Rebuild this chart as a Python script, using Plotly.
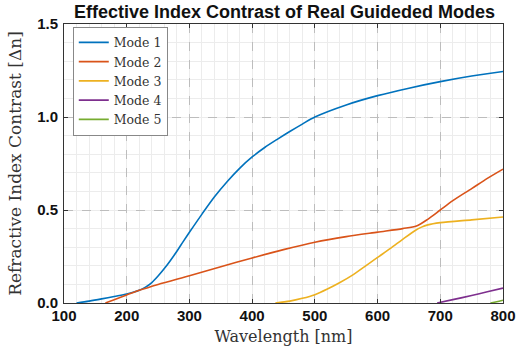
import plotly.graph_objects as go

# ---- data ----
wl_mode1 = [120, 140, 160, 180, 200, 220, 230, 240, 250, 260, 270, 280, 290, 300, 320,
            340, 360, 380, 400, 420, 440, 460, 480, 500, 550, 600, 650, 700, 750, 800]
dn_mode1 = [0.0, 0.01, 0.022, 0.035, 0.048, 0.068, 0.085, 0.11, 0.145, 0.185, 0.23,
            0.278, 0.33, 0.38, 0.478, 0.571, 0.652, 0.724, 0.785, 0.836, 0.88, 0.922,
            0.962, 1.0, 1.065, 1.115, 1.155, 1.19, 1.22, 1.245]

wl_mode2 = [166, 180, 200, 220, 250, 300, 350, 400, 450, 500, 550, 600, 640, 662, 680,
            700, 720, 750, 775, 800]
dn_mode2 = [0.0, 0.018, 0.043, 0.068, 0.1, 0.147, 0.195, 0.242, 0.287, 0.327, 0.357,
            0.381, 0.4, 0.414, 0.45, 0.5, 0.55, 0.615, 0.67, 0.72]

wl_mode3 = [437, 460, 480, 500, 520, 540, 560, 580, 600, 620, 640, 660, 670, 680, 700,
            750, 800]
dn_mode3 = [0.0, 0.01, 0.025, 0.045, 0.075, 0.11, 0.15, 0.197, 0.245, 0.292, 0.342,
            0.39, 0.408, 0.42, 0.432, 0.447, 0.462]

wl_mode4 = [695, 720, 750, 775, 800]
dn_mode4 = [0.0, 0.018, 0.04, 0.06, 0.08]

wl_mode5 = [780, 790, 800]
dn_mode5 = [0.0, 0.007, 0.015]

mode_names = ["Mode 1", "Mode 2", "Mode 3", "Mode 4", "Mode 5"]
mode_colors = ["#0072BD", "#D95319", "#EDB120", "#7E2F8E", "#77AC30"]
x_ticks = [100, 200, 300, 400, 500, 600, 700, 800]
y_ticks = [0.0, 0.5, 1.0, 1.5]
y_tick_text = ["0.0", "0.5", "1.0", "1.5"]

series = [(wl_mode1, dn_mode1), (wl_mode2, dn_mode2), (wl_mode3, dn_mode3),
          (wl_mode4, dn_mode4), (wl_mode5, dn_mode5)]

fig = go.Figure()
for (xs, ys), name, col in zip(series, mode_names, mode_colors):
    fig.add_trace(go.Scatter(x=xs, y=ys, mode="lines", name=name,
                             line=dict(color=col, width=1.6, shape="spline", smoothing=0.8)))

axis_common = dict(
    showline=True, linecolor="#333333", linewidth=1, mirror="ticks",
    ticks="inside", ticklen=4, tickcolor="#333333",
    showgrid=True, gridcolor="#bdbdbd", griddash="dash", gridwidth=1,
    zeroline=False,
    tickfont=dict(family="Liberation Sans, Arial", size=15, color="#111111", weight="bold"),
)

fig.update_xaxes(
    range=[100, 800], tickvals=x_ticks, **axis_common,
    minor=dict(dtick=20, showgrid=True, gridcolor="#ececec", griddash="solid", ticks=""),
    title=dict(text="Wavelength [nm]", standoff=7,
               font=dict(family="DejaVu Serif", size=16, color="#333333")),
    ticklabelstandoff=-1,
)
fig.update_yaxes(
    range=[0, 1.5], tickvals=y_ticks, ticktext=y_tick_text, **axis_common,
    minor=dict(dtick=0.1, showgrid=True, gridcolor="#ececec", griddash="solid", ticks=""),
    title=dict(text="Refractive Index Contrast [Δn]", standoff=11,
               font=dict(family="DejaVu Serif", size=17, color="#333333")),
    ticklabelstandoff=2,
)

fig.update_layout(
    width=528, height=356,
    margin=dict(l=64, r=23, t=24, b=53),
    paper_bgcolor="white", plot_bgcolor="white",
    title=dict(text="Effective Index Contrast of Real Guideded Modes",
               x=(64 + 441 / 2) / 528, xanchor="center",
               y=1 - 12 / 356, yanchor="middle", yref="container",
               font=dict(family="Liberation Sans, Arial", size=18, color="#111111", weight="bold")),
    legend=dict(x=0.02, y=0.99, xanchor="left", yanchor="top",
                bgcolor="white", bordercolor="#888888", borderwidth=1,
                font=dict(family="DejaVu Serif", size=12.5, color="#333333"),
                itemwidth=30, tracegroupgap=0),
    showlegend=True,
)

fig.write_html("out.html")
